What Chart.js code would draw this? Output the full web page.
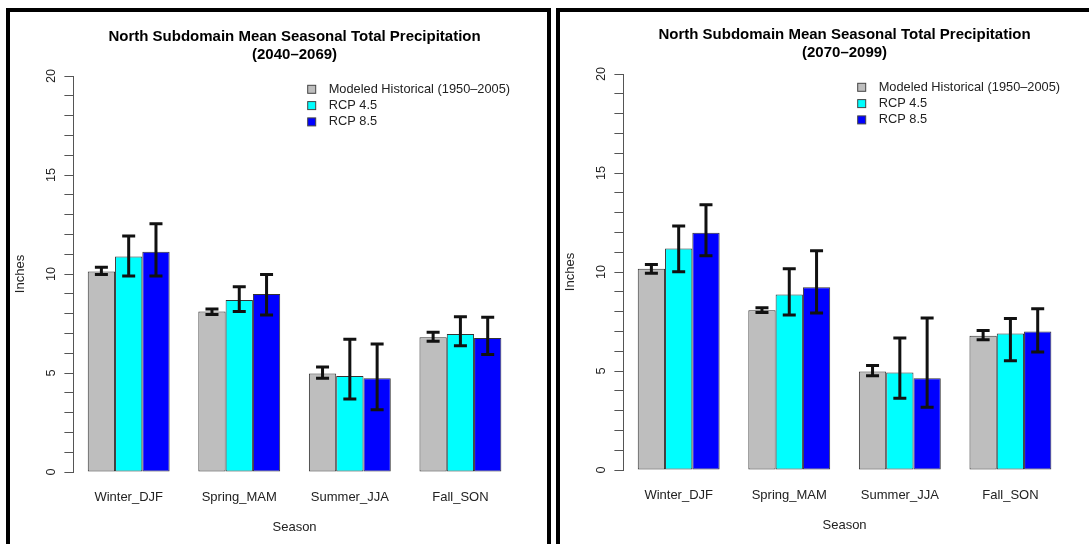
<!DOCTYPE html>
<html>
<head>
<meta charset="utf-8">
<script src="https://cdn.jsdelivr.net/npm/chart.js@4.4.0/dist/chart.umd.min.js"></script>
<style>
  html, body { margin: 0; padding: 0; background: #fff; overflow: hidden; }
  body { width: 1089px; height: 544px; position: relative; }
  canvas { position: absolute; }
  .frame { position: absolute; border: 4px solid #000; box-sizing: border-box; }
</style>
</head>
<body>
<canvas id="chartLeft" width="536" height="532" style="left:11px; top:12px;"></canvas>
<canvas id="chartRight" width="536" height="532" style="left:561px; top:10px;"></canvas>
<div class="frame" style="left:6px; top:8px; width:545px; height:560px;"></div>
<div class="frame" style="left:556px; top:8px; width:545px; height:560px;"></div>

<script>
const seasons = ["Winter_DJF", "Spring_MAM", "Summer_JJA", "Fall_SON"];
const seriesNames = ["Modeled Historical (1950\u20132005)", "RCP 4.5", "RCP 8.5"];
const yTickLabels = [0, 5, 10, 15, 20];

// 2040-2069
const hist1 = [10.12, 8.10, 4.98, 6.80];
const histLow1 = [9.98, 7.96, 4.73, 6.60];
const histHigh1 = [10.34, 8.23, 5.30, 7.06];
const rcp45_1 = [10.89, 8.69, 4.85, 6.97];
const rcp45Low1 = [9.90, 8.10, 3.69, 6.38];
const rcp45High1 = [11.92, 9.36, 6.70, 7.84];
const rcp85_1 = [11.13, 8.99, 4.73, 6.77];
const rcp85Low1 = [9.90, 7.93, 3.15, 5.94];
const rcp85High1 = [12.54, 9.98, 6.46, 7.81];

// 2070-2099
const hist2 = [10.16, 8.07, 4.98, 6.78];
const histLow2 = [9.94, 7.95, 4.76, 6.58];
const histHigh2 = [10.38, 8.20, 5.28, 7.05];
const rcp45_2 = [11.19, 8.86, 4.93, 6.89];
const rcp45Low2 = [10.01, 7.83, 3.63, 5.52];
const rcp45High2 = [12.32, 10.16, 6.67, 7.65];
const rcp85_2 = [11.98, 9.23, 4.64, 7.00];
const rcp85Low2 = [10.82, 7.93, 3.17, 5.96];
const rcp85High2 = [13.40, 11.07, 7.68, 8.15];

const colors = ["#bebebe", "#00ffff", "#0000ff"];
const FONT = "'Liberation Sans', Arial, Helvetica, sans-serif";
Chart.defaults.font.family = FONT;
Chart.defaults.color = "#222";

// error bars drawn on top of the bars
const errorBars = {
  id: "errorBars",
  afterDatasetsDraw(chart) {
    const ctx = chart.ctx;
    const y = chart.scales.y;
    ctx.save();
    ctx.strokeStyle = "#111";
    ctx.lineWidth = 3;
    chart.data.datasets.forEach((ds, i) => {
      chart.getDatasetMeta(i).data.forEach((bar, j) => {
        const top = y.getPixelForValue(ds.errHigh[j]);
        const bot = y.getPixelForValue(ds.errLow[j]);
        ctx.beginPath();
        ctx.moveTo(bar.x, top);
        ctx.lineTo(bar.x, bot);
        ctx.moveTo(bar.x - 6.5, top);
        ctx.lineTo(bar.x + 6.5, top);
        ctx.moveTo(bar.x - 6.5, bot);
        ctx.lineTo(bar.x + 6.5, bot);
        ctx.stroke();
      });
    });
    ctx.restore();
  }
};

// R style rotated y labels + legend in the top right
const rExtras = {
  id: "rExtras",
  afterDraw(chart) {
    const { ctx, chartArea, scales } = chart;
    ctx.save();
    ctx.fillStyle = "#222";
    ctx.font = "12.8px " + FONT;
    ctx.textAlign = "center";
    ctx.textBaseline = "middle";
    yTickLabels.forEach(v => {
      const py = scales.y.getPixelForValue(v);
      ctx.save();
      ctx.translate(chartArea.left - 21.8, py);
      ctx.rotate(-Math.PI / 2);
      ctx.fillText(String(v), 0, 0);
      ctx.restore();
    });

    ctx.textAlign = "left";
    chart.data.datasets.forEach((ds, i) => {
      const cx = chartArea.right - 204;
      const cy = chartArea.top + 13.3 + i * 16.3;
      ctx.fillStyle = ds.backgroundColor;
      ctx.fillRect(cx - 4, cy - 4, 8, 8);
      ctx.strokeStyle = "#444";
      ctx.lineWidth = 1;
      ctx.strokeRect(cx - 4, cy - 4, 8, 8);
      ctx.fillStyle = "#222";
      ctx.fillText(ds.label, chartArea.right - 187, cy);
    });
    ctx.restore();
  }
};

function makePanel(id, period, vals, lows, highs) {
  const datasets = seriesNames.map((name, i) => ({
    label: name,
    data: vals[i],
    errLow: lows[i],
    errHigh: highs[i],
    backgroundColor: colors[i],
    borderColor: "#333",
    borderWidth: 1,
    borderSkipped: false,
    categoryPercentage: 0.7405,
    barPercentage: 1.0
  }));

  return new Chart(document.getElementById(id), {
    type: "bar",
    data: { labels: seasons, datasets: datasets },
    options: {
      responsive: false,
      animation: false,
      layout: { padding: { left: 0, right: 31.3, top: 0, bottom: 9.2 } },
      plugins: {
        legend: { display: false },
        tooltip: { enabled: false },
        title: {
          display: true,
          fullSize: false,
          text: ["North Subdomain Mean Seasonal Total Precipitation", period],
          color: "#000",
          font: { size: 15, weight: "bold", lineHeight: 1.2 },
          padding: { top: 16, bottom: 12 }
        }
      },
      scales: {
        x: {
          grid: { display: false },
          border: { display: false },
          ticks: { color: "#222", font: { size: 13 }, padding: 10 },
          title: { display: true, text: "Season", color: "#222", font: { size: 13 }, padding: { top: 0, bottom: 0 } },
          afterFit(s) { s.height = 62.8; }
        },
        y: {
          min: 0,
          max: 20,
          ticks: { display: false, stepSize: 1, maxTicksLimit: 25 },
          grid: { drawOnChartArea: false, tickLength: 9, color: "#555" },
          border: { color: "#555" },
          title: { display: true, text: "Inches", color: "#222", font: { size: 13 }, padding: { top: 1.2, bottom: 0 } },
          afterFit(s) { s.width = 62.4; }
        }
      }
    },
    plugins: [errorBars, rExtras]
  });
}

makePanel("chartLeft", "(2040\u20132069)",
  [hist1, rcp45_1, rcp85_1],
  [histLow1, rcp45Low1, rcp85Low1],
  [histHigh1, rcp45High1, rcp85High1]);

makePanel("chartRight", "(2070\u20132099)",
  [hist2, rcp45_2, rcp85_2],
  [histLow2, rcp45Low2, rcp85Low2],
  [histHigh2, rcp45High2, rcp85High2]);
</script>
</body>
</html>
